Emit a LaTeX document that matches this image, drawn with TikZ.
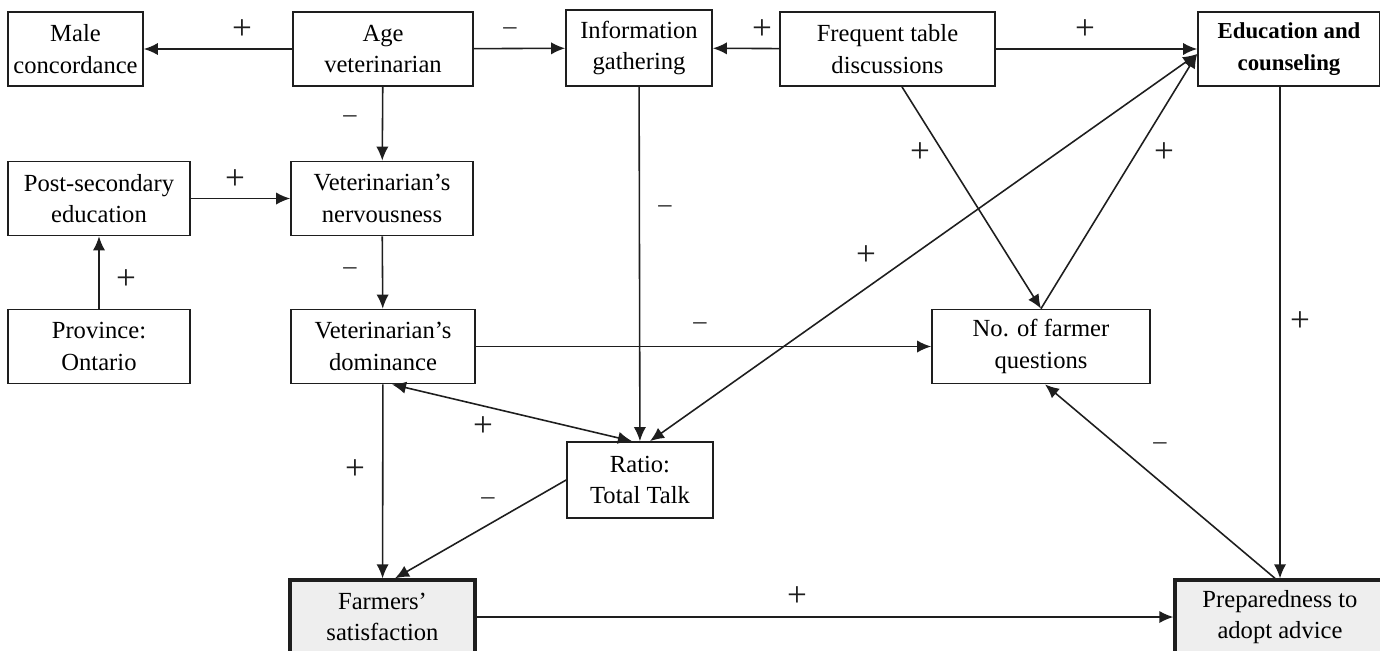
\documentclass[tikz,border=0pt]{standalone}
\usepackage{fontspec}
\setmainfont{Liberation Serif}
\usetikzlibrary{arrows.meta,positioning}
\definecolor{cOut}{RGB}{238,238,238}
\definecolor{cLine}{RGB}{30,30,30}
\tikzset{
  basebox/.style={rectangle,draw=cLine,line width=1pt,align=center,
                  font=\fontsize{14}{18}\selectfont,inner sep=2pt,
                  minimum height=1.48cm},
  boldbox/.style={basebox,font=\fontsize{13}{18}\selectfont\bfseries},
  outbox/.style={basebox,line width=1.9pt,fill=cOut},
  arr/.style={-{Latex[length=8pt,width=7pt]},line width=0.9pt,color=cLine},
  dblarr/.style={{Latex[length=8pt,width=7pt]}-{Latex[length=8pt,width=7pt]},
                 line width=0.9pt,color=cLine},
  sign/.style={font=\fontsize{20}{20}\selectfont,inner sep=0pt,text=cLine}
}
\newcommand{\negsign}{{\fontsize{15}{15}\selectfont\textendash}}
\begin{document}
\begin{tikzpicture}[x=0.02cm,y=-0.02cm]
  \useasboundingbox (0,0) rectangle (1380,650);

  % top row
  \node[basebox,minimum width=2.7cm] (male) at (75.5,49) {Male\\concordance};
  \node[basebox,minimum width=3.6cm] (age) at (383,49) {Age\\veterinarian};
  \node[basebox,minimum width=2.92cm,minimum height=1.52cm] (info) at (639,48)
      {Information\\gathering};
  \node[basebox,minimum width=4.3cm] (freq) at (887.5,49)
      {Frequent table\\discussions};
  \node[boldbox,minimum width=3.64cm] (edu) at (1289,49)
      {Education and\\counseling};

  % middle rows
  \node[basebox,minimum width=3.64cm] (post) at (99,198.5)
      {Post-secondary\\education};
  \node[basebox,minimum width=3.64cm] (nerv) at (382,198.5)
      {Veterinarian's\\nervousness};
  \node[basebox,minimum width=3.64cm] (prov) at (99,346.5) {Province:\\Ontario};
  \node[basebox,minimum width=3.68cm] (dom) at (383,346.5)
      {Veterinarian's\\dominance};
  \node[basebox,minimum width=4.36cm] (noq) at (1041,346.5)
      {No. of farmer\\questions};
  \node[basebox,minimum width=2.92cm,minimum height=1.52cm] (ratio) at (640,480)
      {Ratio:\\Total Talk};

  % outcomes
  \node[outbox,minimum width=3.7cm] (farm) at (382.5,617)
      {Farmers'\\satisfaction};
  \node[outbox,minimum width=4.2cm] (prep) at (1280,617)
      {Preparedness to\\adopt advice};

  \coordinate (eduin) at ([yshift=-0.1cm]edu.west);

  % straight paths
  \foreach \f/\t in {age/male,age/info,freq/info,freq/edu,age/nerv,post/nerv,
                     prov/post,nerv/dom,dom/noq,info/ratio,dom/farm,farm/prep}
    \draw[arr] (\f) -- (\t);

  % diagonal paths
  \draw[arr] ([xshift=0.29cm]freq.south) -- (noq.north);
  \draw[arr] (noq.north) -- (eduin);
  \draw[dblarr] (eduin) -- ([xshift=0.2cm]ratio.north);
  \draw[dblarr] ([xshift=0.18cm]dom.south) -- ([xshift=-0.16cm]ratio.north);
  \draw[arr] (ratio.west) -- ([xshift=0.25cm]farm.north);
  \draw[arr] (edu.south -| prep.north) -- (prep.north);
  \draw[arr] ([xshift=-0.1cm]prep.north) -- ([xshift=0.08cm]noq.south);

  % signs
  \foreach \s/\x/\y [count=\i] in {+/242/30, \negsign/510/31, +/762/30,
      +/1085/30, \negsign/350/119, +/235/180, +/126/280, \negsign/350/271,
      \negsign/700/326, \negsign/665/209, +/920/153, +/1164/153,
      +/866/256, +/483/427, +/355/470, \negsign/488/501, +/1300/322,
      \negsign/1160/446, +/797/597}
    \node[sign] (sg\i) at (\x,\y) {\s};

\end{tikzpicture}
\end{document}
